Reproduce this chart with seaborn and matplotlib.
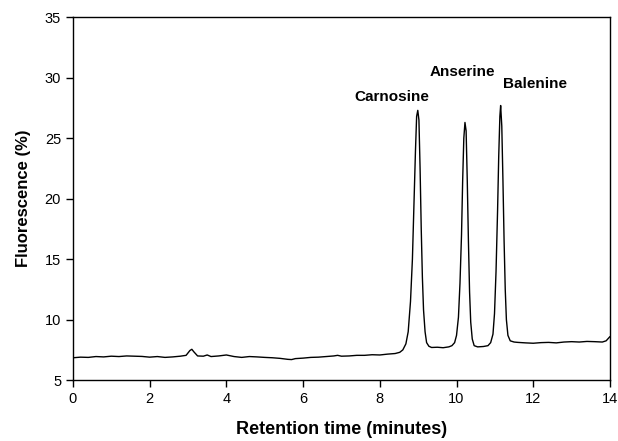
import pandas as pd
import matplotlib.pyplot as plt
import seaborn as sns

# Chromatogram (retention time in minutes, fluorescence %)
time_min = [
    0.0, 0.2, 0.4, 0.6, 0.8, 1.0, 1.2, 1.4, 1.6, 1.8, 2.0, 2.2, 2.4, 2.6, 2.8,
    2.95, 3.05, 3.1, 3.15, 3.25, 3.4, 3.5, 3.6, 3.8, 4.0, 4.2, 4.4, 4.6, 4.8,
    5.0, 5.2, 5.4, 5.6, 5.7, 5.8, 6.0, 6.2, 6.4, 6.6, 6.8, 6.9, 7.0, 7.2, 7.4,
    7.6, 7.8, 8.0, 8.2, 8.4, 8.52, 8.60, 8.68, 8.74, 8.80, 8.85, 8.89, 8.93,
    8.96, 8.99, 9.02, 9.05, 9.08, 9.11, 9.14, 9.18, 9.22, 9.28, 9.35, 9.5,
    9.65, 9.8, 9.88, 9.95, 10.00, 10.05, 10.09, 10.13, 10.16, 10.19, 10.22,
    10.25, 10.28, 10.31, 10.34, 10.37, 10.41, 10.46, 10.55, 10.7, 10.82,
    10.89, 10.95, 10.99, 11.03, 11.07, 11.10, 11.13, 11.15, 11.18, 11.21,
    11.24, 11.27, 11.30, 11.34, 11.40, 11.5, 11.6, 11.8, 12.0, 12.2, 12.4,
    12.6, 12.8, 13.0, 13.2, 13.4, 13.6, 13.8, 13.9, 14.0,
]
fluorescence = [
    6.85, 6.90, 6.88, 6.95, 6.92, 6.98, 6.95, 7.00, 6.98, 6.96, 6.90, 6.95,
    6.88, 6.92, 6.98, 7.05, 7.45, 7.55, 7.35, 7.00, 6.98, 7.08, 6.95, 7.00,
    7.08, 6.95, 6.88, 6.95, 6.92, 6.88, 6.85, 6.80, 6.72, 6.70, 6.78, 6.82,
    6.88, 6.90, 6.95, 7.00, 7.05, 6.98, 7.00, 7.05, 7.05, 7.10, 7.08, 7.15,
    7.20, 7.30, 7.50, 8.00, 9.00, 11.5, 15.0, 19.5, 24.0, 26.8, 27.3, 26.5,
    22.5, 17.5, 13.5, 10.8, 9.0, 8.1, 7.80, 7.70, 7.72, 7.68, 7.75, 7.85,
    8.10, 8.70, 10.2, 13.0, 17.0, 21.5, 25.0, 26.3, 25.6, 21.5, 16.5, 12.3,
    9.8, 8.4, 7.85, 7.75, 7.78, 7.85, 8.10, 8.80, 10.5, 14.0, 19.0, 23.5,
    26.8, 27.7, 26.0, 21.5, 16.5, 12.5, 10.0, 8.7, 8.25, 8.15, 8.12, 8.08,
    8.05, 8.10, 8.12, 8.08, 8.15, 8.18, 8.15, 8.20, 8.18, 8.15, 8.25, 8.6,
]

peak_names = ["Carnosine", "Anserine", "Balenine"]
label_x = [8.3, 10.15, 12.05]
label_y = [28.4, 30.5, 29.5]

df = pd.DataFrame({"time": time_min, "fluor": fluorescence})

sns.set_style("ticks")
plt.rcParams["font.family"] = ["Liberation Sans", "DejaVu Sans"]
plt.rcParams["text.color"] = "black"
plt.rcParams["axes.labelcolor"] = "black"
plt.rcParams["xtick.color"] = "black"
plt.rcParams["ytick.color"] = "black"

fig, ax = plt.subplots(figsize=(6.18, 4.41), dpi=100)
fig.subplots_adjust(left=0.118, right=0.987, top=0.961, bottom=0.138)

sns.lineplot(data=df, x="time", y="fluor", color="black", linewidth=1.0, ax=ax)

for name, lx, ly in zip(peak_names, label_x, label_y):
    ax.text(lx, ly, name, ha="center", va="center", fontsize=11, fontweight="bold")

ax.set_xlim(0, 14)
ax.set_ylim(5, 35)
ax.set_xticks(range(0, 15, 2))
ax.set_yticks(range(5, 36, 5))
ax.tick_params(labelsize=10.5, direction="out", length=5, width=1, color="black")
for s in ax.spines.values():
    s.set_visible(True)
    s.set_color("black")
    s.set_linewidth(1)

ax.set_xlabel("Retention time (minutes)", fontsize=13, fontweight="bold", labelpad=11)
ax.set_ylabel("Fluorescence (%)", fontsize=12, fontweight="bold", labelpad=10)

plt.savefig("out.png", dpi=100)
